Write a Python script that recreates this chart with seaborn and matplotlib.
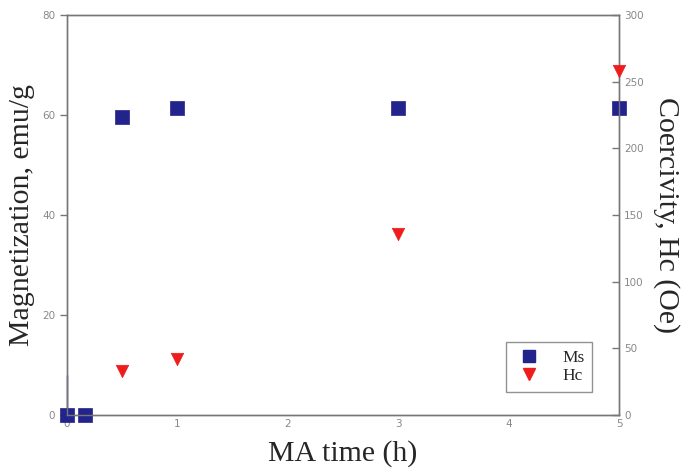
import numpy as np
import pandas as pd
import matplotlib
matplotlib.use("Agg")
import matplotlib.pyplot as plt
import seaborn as sns
from matplotlib.lines import Line2D

# data
ms_time = [0, 0.16, 0.5, 1, 3, 5]
ms_vals = [0, 0, 59.7, 61.5, 61.5, 61.5]
hc_time = [0.5, 1, 3, 5]
hc_vals = [33, 42, 136, 258]
ms_err_up = [8, 0, 0, 0, 0, 0]

sns.set_style("white")
plt.rcParams["font.family"] = ["DejaVu Sans"]

navy = "#23238c"
red = "#ee1c1c"
gray = "#777777"

fig = plt.figure(figsize=(6.86, 4.68), dpi=100)
ax = fig.add_axes([0.0977, 0.113, 0.805, 0.855])
ax2 = ax.twinx()

df_ms = pd.DataFrame({"t": ms_time, "Ms": ms_vals})
df_hc = pd.DataFrame({"t": hc_time, "Hc": hc_vals})

eb = ax.errorbar(ms_time, ms_vals, yerr=[np.zeros(len(ms_err_up)), ms_err_up],
                 fmt="none", ecolor=navy, elinewidth=1.0, capsize=0, zorder=5)
for c in eb.lines[2]:
    c.set_clip_on(False)
sns.scatterplot(data=df_ms, x="t", y="Ms", ax=ax, marker="s", s=90,
                color=navy, edgecolor=navy, linewidth=0.5, zorder=3,
                clip_on=False)
sns.scatterplot(data=df_hc, x="t", y="Hc", ax=ax2, marker="v", s=80,
                color=red, edgecolor=red, linewidth=0.5, zorder=3,
                clip_on=False)

ax.set_xlim(0, 5)
ax.set_ylim(0, 80)
ax2.set_ylim(0, 300)
ax.set_xticks([0, 1, 2, 3, 4, 5])
ax.set_yticks([0, 20, 40, 60, 80])
ax2.set_yticks([0, 50, 100, 150, 200, 250, 300])

for a in (ax, ax2):
    for sp in a.spines.values():
        sp.set_color(gray)
        sp.set_linewidth(1.0)

ax.tick_params(axis="y", direction="out", length=5, width=1, colors=gray,
               labelsize=7.5, labelcolor="#888888")
ax.tick_params(axis="x", direction="in", length=5, width=1, colors=gray,
               labelsize=7.5, labelcolor="#888888", pad=3)
ax2.tick_params(axis="y", direction="in", length=5, width=1, colors=gray,
                labelsize=7.5, labelcolor="#888888")

serif = ["Liberation Serif", "DejaVu Serif"]
ax.set_xlabel("MA time (h)", family=serif, fontsize=21.5, labelpad=8)
ax.set_ylabel("Magnetization, emu/g", family=serif, fontsize=21.5, labelpad=5)
ax2.set_ylabel("Coercivity, Hc (Oe)", family=serif, fontsize=21.5,
               rotation=270, labelpad=26)

handles = [
    Line2D([], [], marker="s", color=navy, linestyle="none", markersize=9),
    Line2D([], [], marker="v", color=red, linestyle="none", markersize=9),
]
leg = ax2.legend(handles, ["Ms", "Hc"], loc="lower right",
                 bbox_to_anchor=(0.951, 0.0575), frameon=True, fancybox=False,
                 prop={"family": serif, "size": 12.5}, handletextpad=1.0,
                 borderpad=0.45, labelspacing=0.1, handlelength=1.8,
                 borderaxespad=0)
leg.get_frame().set_edgecolor(gray)
leg.get_frame().set_linewidth(1.0)

fig.savefig("out.png", dpi=100)
